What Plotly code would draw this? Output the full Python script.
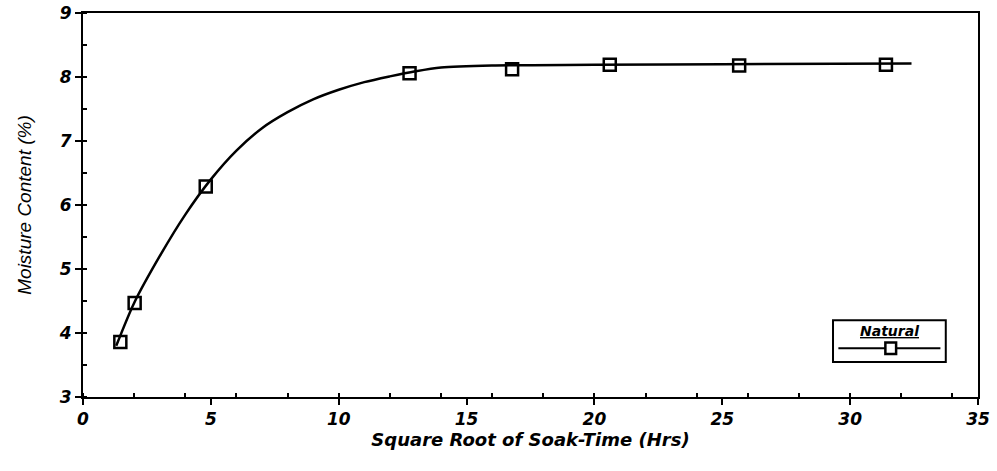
import plotly.graph_objects as go

# measured points
sqrt_time = [1.46, 2.02, 4.8, 12.77, 16.78, 20.6, 25.66, 31.4]
moisture = [3.86, 4.47, 6.29, 8.06, 8.12, 8.19, 8.18, 8.19]

# fitted curve
curve_x = [1.3, 2.0, 3.0, 4.0, 5.0, 6.0, 7.0, 8.0, 9.0, 10.0, 11.0, 12.0, 13.0, 14.0, 16.0, 20.0, 25.0, 32.4]
curve_y = [3.80, 4.47, 5.20, 5.85, 6.40, 6.85, 7.20, 7.45, 7.65, 7.80, 7.92, 8.01, 8.09, 8.15, 8.18, 8.19, 8.20, 8.21]

x_ticks = [0, 5, 10, 15, 20, 25, 30, 35]
y_ticks = [3, 4, 5, 6, 7, 8, 9]

BOLDFONT = "'DejaVu Sans', 'Liberation Sans', sans-serif"
LIGHTFONT = "'Liberation Sans', Arial, sans-serif"
TICKFONT = dict(family=BOLDFONT, size=17, color="black", weight="bold", style="italic")

fig = go.Figure()
fig.add_trace(go.Scatter(x=curve_x, y=curve_y, mode="lines",
                         line=dict(color="black", width=2.5, shape="spline", smoothing=0.8),
                         showlegend=False, hoverinfo="skip"))
fig.add_trace(go.Scatter(x=sqrt_time, y=moisture, mode="markers", name="Natural", showlegend=False,
                         marker=dict(symbol="square-open", size=12, color="black", line=dict(width=2.5, color="black"))))

axis_common = dict(showline=True, linecolor="black", linewidth=2, mirror=True, showgrid=False, zeroline=False,
                   automargin=False, ticklabeloverflow="allow",
                   ticks="outside", ticklen=6, tickwidth=2, tickcolor="black",
                   tickfont=TICKFONT,
                   minor=dict(ticks="inside", ticklen=4, tickwidth=2, tickcolor="black"))

fig.update_xaxes(range=[0, 35], tickvals=x_ticks,
                 title=dict(text="Square Root of Soak-Time (Hrs)",
                            font=dict(family=BOLDFONT, size=18, color="black", weight="bold", style="italic"), standoff=2),
                 **axis_common)
fig.update_yaxes(range=[3, 9], tickvals=y_ticks,
                 title=dict(text="Moisture Content (%)",
                            font=dict(family=LIGHTFONT, size=19, color="black", style="italic"), standoff=22),
                 **axis_common)

# manual legend box (paper coordinates)
lx0, lx1, ly0, ly1 = 0.838, 0.964, 0.091, 0.20
fig.add_shape(type="rect", xref="paper", yref="paper", x0=lx0, x1=lx1, y0=ly0, y1=ly1,
              line=dict(color="black", width=2), fillcolor="white", layer="above")
fig.add_shape(type="line", xref="paper", yref="paper", x0=lx0 + 0.006, x1=lx1 - 0.006, y0=0.127, y1=0.127,
              line=dict(color="black", width=2), layer="above")
fig.add_shape(type="rect", xref="paper", yref="paper", x0=0.8965, x1=0.9085, y0=0.112, y1=0.142,
              line=dict(color="black", width=2.5), fillcolor="white", layer="above")
fig.add_annotation(xref="paper", yref="paper", x=(lx0 + lx1) / 2, y=0.172, xanchor="center", yanchor="middle",
                   text="<u>Natural</u>", showarrow=False,
                   font=dict(family=BOLDFONT, size=14, color="black", weight="bold", style="italic"))

fig.update_layout(
    width=997, height=471,
    margin=dict(l=83, r=19, t=13, b=74),
    plot_bgcolor="white", paper_bgcolor="white",
    showlegend=False,
)

# remove the page's default body margin so the figure fills the window exactly
fig.write_html("out.html", config={"displayModeBar": False},
               post_script="document.body.style.margin='0';")
